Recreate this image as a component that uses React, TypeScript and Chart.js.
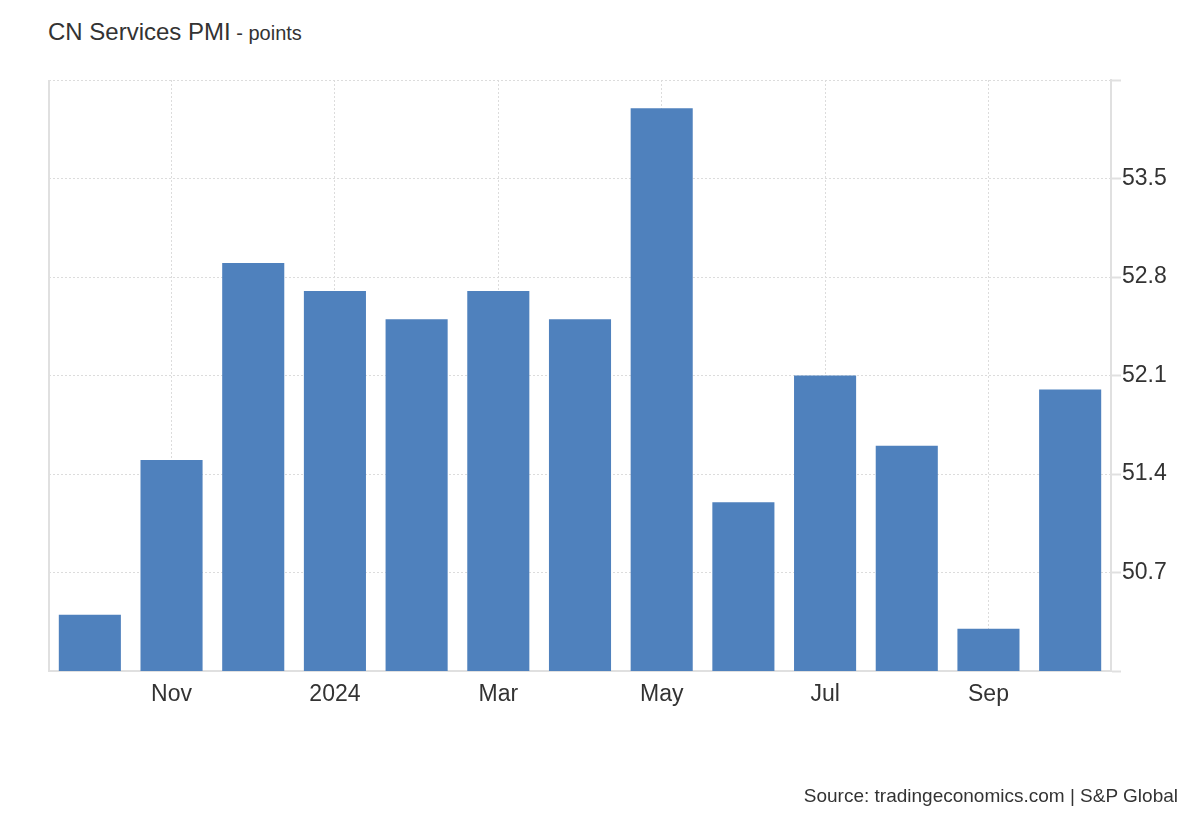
import React, { useEffect, useRef } from "react";
import { Chart, registerables } from "chart.js";

Chart.register(...registerables);

const categories = ["Oct", "Nov", "Dec", "2024", "Feb", "Mar", "Apr", "May", "Jun", "Jul", "Aug", "Sep", "Oct"];
const pmiValues = [50.4, 51.5, 52.9, 52.7, 52.5, 52.7, 52.5, 54.0, 51.2, 52.1, 51.6, 50.3, 52.0];
const yTickValues = [50.0, 50.7, 51.4, 52.1, 52.8, 53.5, 54.2];
const yLabelledTicks = [50.7, 51.4, 52.1, 52.8, 53.5];

const FONT = "'Liberation Sans', Arial, Helvetica, sans-serif";
const BAR_COLOR = "#4f81bd";
const GRID_COLOR = "#dcdcdc";
const AXIS_COLOR = "#e0e0e0";
const TEXT_COLOR = "#333333";

const leftBorderPlugin = {
  id: "leftBorder",
  afterDraw(chart: any) {
    const { ctx, chartArea } = chart;
    ctx.save();
    ctx.strokeStyle = AXIS_COLOR;
    ctx.lineWidth = 2;
    ctx.beginPath();
    ctx.moveTo(chartArea.left, chartArea.top);
    ctx.lineTo(chartArea.left, chartArea.bottom);
    ctx.stroke();
    ctx.restore();
  },
};

export default function App() {
  const canvasRef = useRef<HTMLCanvasElement | null>(null);

  useEffect(() => {
    document.body.style.margin = "0";
    const canvas = canvasRef.current;
    if (!canvas) return;
    const chart = new Chart(canvas, {
      type: "bar",
      data: {
        labels: categories,
        datasets: [
          {
            label: "CN Services PMI",
            data: pmiValues,
            backgroundColor: BAR_COLOR,
            borderWidth: 0,
            barPercentage: 0.76,
            categoryPercentage: 1,
          },
        ],
      },
      options: {
        animation: false,
        responsive: false,
        maintainAspectRatio: false,
        layout: { padding: { left: 49, top: 80, right: 0, bottom: 0 } },
        plugins: {
          legend: { display: false },
          tooltip: { enabled: false },
          title: { display: false },
        },
        scales: {
          x: {
            offset: true,
            grid: {
              offset: false,
              drawTicks: false,
              lineWidth: 1,
              color: (ctx: any) => (ctx.index % 2 === 1 ? GRID_COLOR : "rgba(0,0,0,0)"),
            },
            border: { display: true, color: AXIS_COLOR, width: 2, dash: [2, 2] },
            ticks: {
              autoSkip: false,
              maxRotation: 0,
              padding: 10,
              color: TEXT_COLOR,
              font: { family: FONT, size: 23 },
              callback: (_v: any, i: number) => (i % 2 === 1 ? categories[i] : ""),
            },
            afterFit: (scale: any) => {
              scale.height = 149;
            },
          },
          y: {
            position: "right",
            min: 50,
            max: 54.2,
            afterBuildTicks: (scale: any) => {
              scale.ticks = yTickValues.map((v) => ({ value: v }));
            },
            grid: {
              color: GRID_COLOR,
              lineWidth: 1,
              tickLength: 10,
              tickColor: AXIS_COLOR,
              tickWidth: 2,
            },
            border: { display: true, color: AXIS_COLOR, width: 2, dash: [2, 2] },
            ticks: {
              padding: 1,
              color: TEXT_COLOR,
              font: { family: FONT, size: 23 },
              crossAlign: "near",
              callback: (v: any) => {
                const n = Number(v);
                return yLabelledTicks.some((t) => Math.abs(t - n) < 1e-6) ? n.toFixed(1) : "";
              },
            },
            afterFit: (scale: any) => {
              scale.width = 89;
            },
          },
        },
      } as any,
      plugins: [leftBorderPlugin],
    });
    return () => chart.destroy();
  }, []);

  return (
    <div style={{ position: "relative", width: 1200, height: 820, background: "#fff", fontFamily: FONT, color: TEXT_COLOR }}>
      <div style={{ position: "absolute", left: 48, top: 20, whiteSpace: "nowrap", lineHeight: 1 }}>
        <span style={{ fontSize: 24 }}>CN Services PMI</span>
        <span style={{ fontSize: 20 }}> - points</span>
      </div>
      <canvas ref={canvasRef} width={1200} height={820} style={{ position: "absolute", left: 0, top: 0, width: 1200, height: 820 }} />
      <div style={{ position: "absolute", right: 22, top: 786, fontSize: 19, whiteSpace: "nowrap", lineHeight: 1 }}>
        Source: tradingeconomics.com | S&amp;P Global
      </div>
    </div>
  );
}
